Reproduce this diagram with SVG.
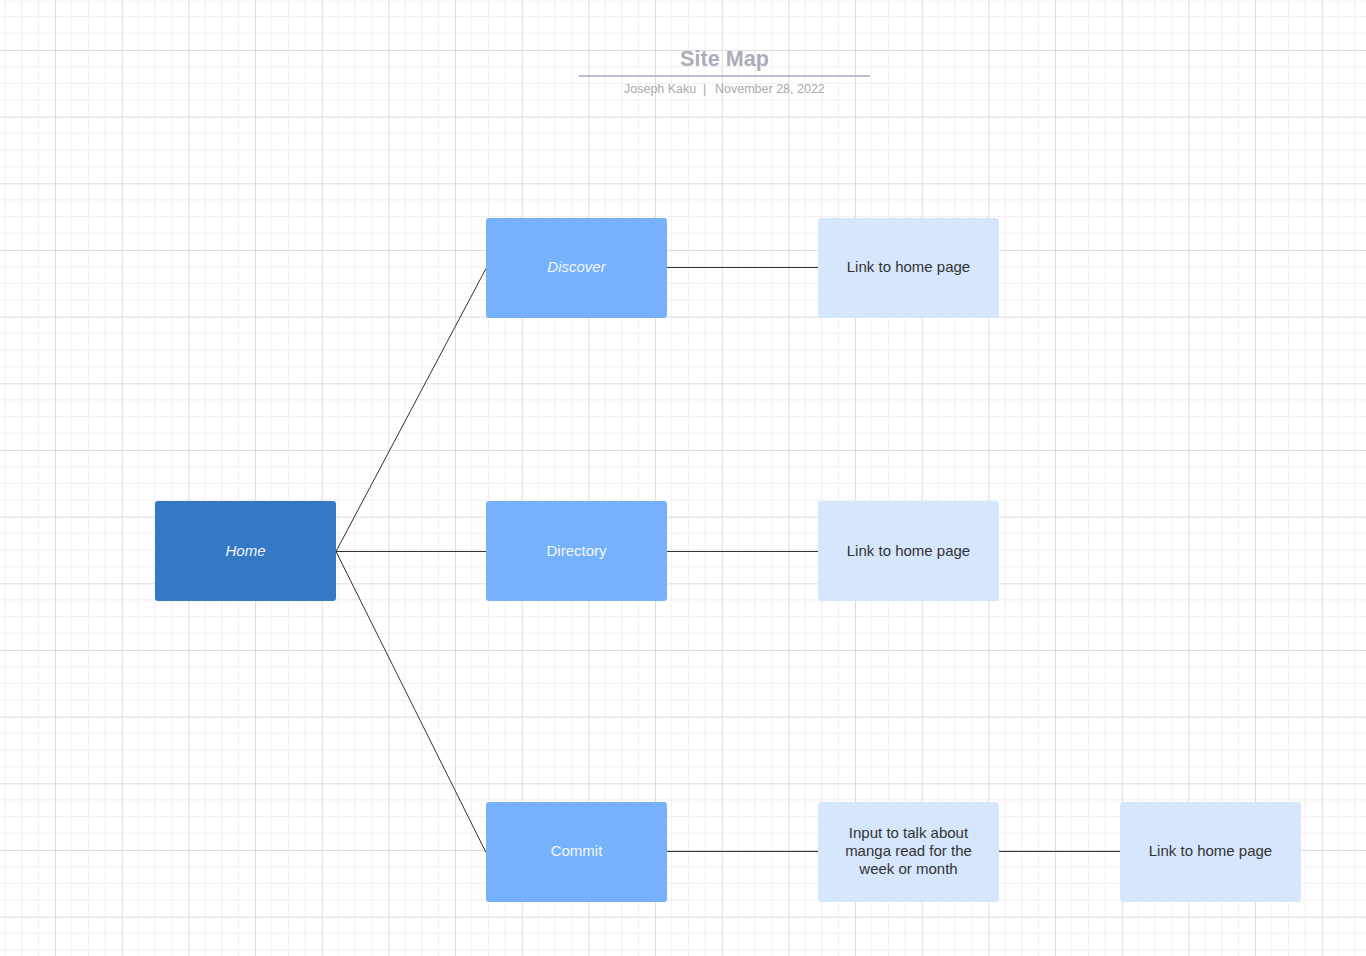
<svg xmlns="http://www.w3.org/2000/svg" width="1366" height="956" viewBox="0 0 1366 956">
  <defs>
    <!-- background grid: minor lines every 16.67px, major every 66.67px -->
    <pattern id="grid" patternUnits="userSpaceOnUse" x="55" y="50" width="66.667" height="66.667">
      <path d="M16.667 0V66.667M33.333 0V66.667M50 0V66.667M0 16.667H66.667M0 33.333H66.667M0 50H66.667" stroke="#eeeeee" stroke-width="1" fill="none"/>
      <path d="M0.5 0V66.667M0 0.5H66.667" stroke="#dcdcdc" stroke-width="1" fill="none"/>
    </pattern>
    <style>
      .lbl { font-family: "Liberation Sans", Arial, sans-serif; font-size: 15px; text-anchor: middle; }
      .dark { fill: #3578c6; }
      .mid { fill: #76b2fb; }
      .light { fill: #d6e7fd; }
      .onblue { fill: #f2f7ff; }
      .onlight { fill: #333333; }
      .it { font-style: italic; }
      .conn { stroke: #333333; stroke-width: 1; fill: none; }
    </style>
  </defs>

  <rect width="1366" height="956" fill="#ffffff"/>
  <rect width="1366" height="956" fill="url(#grid)"/>

  <!-- title block -->
  <g id="title">
    <text x="724.5" y="66" font-family="Liberation Sans, Arial, sans-serif" font-size="21.6" font-weight="bold" fill="#a9aeb9" text-anchor="middle">Site Map</text>
    <line x1="579" y1="76" x2="870" y2="76" stroke="#a3aabb" stroke-width="1.5"/>
    <text y="93" font-family="Liberation Sans, Arial, sans-serif" font-size="12.5" fill="#aaaaaa"><tspan x="624">Joseph Kaku</tspan><tspan x="703">|</tspan><tspan x="715">November 28, 2022</tspan></text>
  </g>

  <!-- connectors -->
  <g id="connectors">
    <line class="conn" x1="336" y1="551.5" x2="486" y2="268.5"/>
    <line class="conn" x1="336" y1="551.5" x2="486" y2="551.5"/>
    <line class="conn" x1="336" y1="551.5" x2="486" y2="852.5"/>
    <line class="conn" x1="667" y1="267.5" x2="818" y2="267.5"/>
    <line class="conn" x1="667" y1="551.5" x2="818" y2="551.5"/>
    <line class="conn" x1="667" y1="851.5" x2="818" y2="851.5"/>
    <line class="conn" x1="999" y1="851.5" x2="1120" y2="851.5"/>
  </g>

  <!-- nodes -->
  <g id="home">
    <rect class="dark" x="155" y="501" width="181" height="100" rx="3"/>
    <text class="lbl onblue it" x="245.5" y="556">Home</text>
  </g>
  <g id="discover">
    <rect class="mid" x="486" y="218" width="181" height="100" rx="3"/>
    <text class="lbl onblue it" x="576.5" y="272">Discover</text>
  </g>
  <g id="directory">
    <rect class="mid" x="486" y="501" width="181" height="100" rx="3"/>
    <text class="lbl onblue" x="576.5" y="556">Directory</text>
  </g>
  <g id="commit">
    <rect class="mid" x="486" y="802" width="181" height="100" rx="3"/>
    <text class="lbl onblue" x="576.5" y="856">Commit</text>
  </g>
  <g id="discover-link">
    <rect class="light" x="818" y="218" width="181" height="100" rx="3"/>
    <text class="lbl onlight" x="908.5" y="272">Link to home page</text>
  </g>
  <g id="directory-link">
    <rect class="light" x="818" y="501" width="181" height="100" rx="3"/>
    <text class="lbl onlight" x="908.5" y="556">Link to home page</text>
  </g>
  <g id="commit-input">
    <rect class="light" x="818" y="802" width="181" height="100" rx="3"/>
    <text class="lbl onlight" x="908.5" y="838"><tspan x="908.5">Input to talk about</tspan><tspan x="908.5" dy="18">manga read for the</tspan><tspan x="908.5" dy="18">week or month</tspan></text>
  </g>
  <g id="commit-link">
    <rect class="light" x="1120" y="802" width="181" height="100" rx="3"/>
    <text class="lbl onlight" x="1210.5" y="856">Link to home page</text>
  </g>
</svg>
